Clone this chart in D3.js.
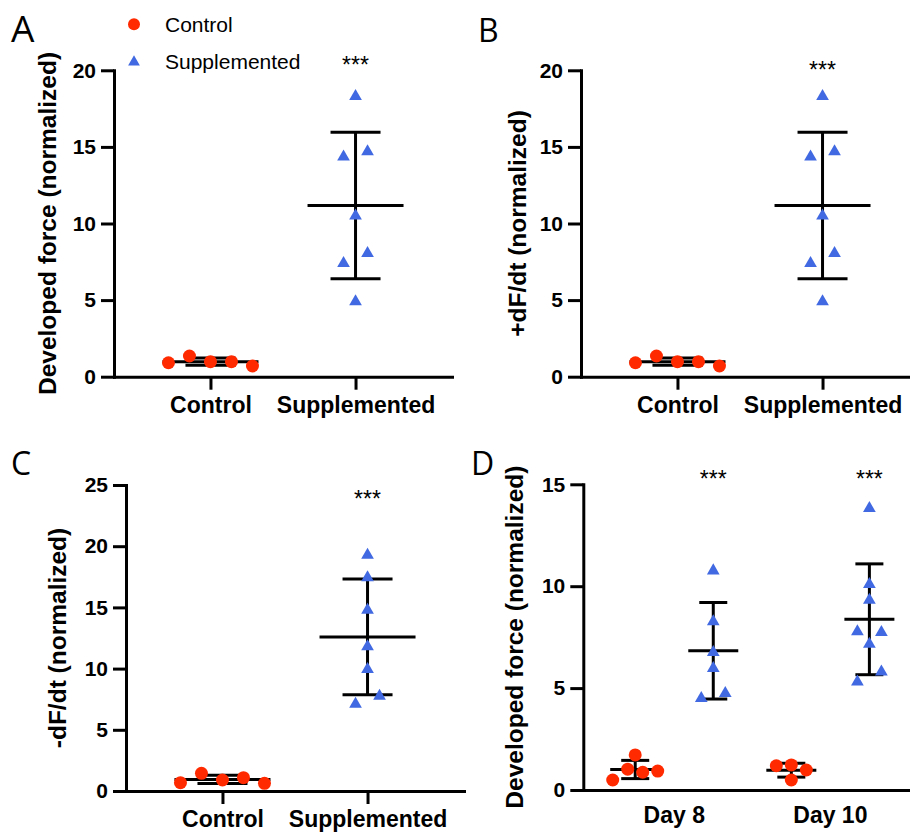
<!DOCTYPE html>
<html>
<head>
<meta charset="utf-8">
<script src="https://cdn.jsdelivr.net/npm/d3@7"></script>
<style>
  body { margin: 0; background: #fff; }
  svg { display: block; }
</style>
</head>
<body>
<svg id="fig" width="910" height="833"></svg>
<script>
// ---- data ---------------------------------------------------------------
const groupNames = ["Control", "Supplemented"];
const dayNames = ["Day 8", "Day 10"];

// A: developed force (normalized)
const forceControl = [0.91, 1.35, 0.98, 0.98, 0.70];
const forceSupp = [18.3, 14.35, 14.7, 10.5, 7.4, 8.05, 4.9];

// B: +dF/dt (normalized)
const riseControl = [0.91, 1.35, 0.98, 0.98, 0.70];
const riseSupp = [18.3, 14.35, 14.7, 10.5, 7.4, 8.05, 4.9];

// C: -dF/dt (normalized)
const decayControl = [0.68, 1.44, 0.90, 1.09, 0.63];
const decaySupp = [19.28, 17.43, 14.79, 11.79, 9.94, 7.11, 7.76];

// D: developed force by day
const day8Control = [0.49, 1.02, 0.87, 0.93, 1.72];
const day8Supp = [10.76, 8.26, 6.76, 5.97, 4.50, 4.74];
const day10Control = [1.19, 1.23, 0.98, 0.49];
const day10Supp = [13.82, 10.09, 9.32, 7.77, 7.74, 7.16, 5.31, 5.80];

const ticksAB = [0, 5, 10, 15, 20];
const ticksC = [0, 5, 10, 15, 20, 25];
const ticksD = [0, 5, 10, 15];
const sigLabel = "***";

// ---- styling ------------------------------------------------------------
const RED = "#ff2a00";
const BLUE = "#4169e1";
const BOLD = "'Liberation Sans', Arial, sans-serif";
const svg = d3.select("#fig");

// Arrange points of one column in rows: points whose pixel heights lie
// within `tol` of the row's first point share a row and are spread evenly.
function swarmOffsets(values, y, spacing, tol) {
  const order = d3.range(values.length).sort((a, b) => y(values[a]) - y(values[b]));
  const rows = [];
  order.forEach(i => {
    const row = rows[rows.length - 1];
    if (row && y(values[i]) - y(values[row[0]]) <= tol) row.push(i);
    else rows.push([i]);
  });
  const off = new Array(values.length).fill(0);
  rows.forEach(row => {
    row.sort((a, b) => a - b);
    row.forEach((i, k) => { off[i] = (k - (row.length - 1) / 2) * spacing; });
  });
  return off;
}

function drawPanel(cfg) {
  const g = svg.append("g");
  const y = d3.scaleLinear().domain([0, cfg.yMax]).range([cfg.yBot, cfg.yTop]);
  const x = d3.scalePoint()
    .domain(cfg.columns.map(c => c.key))
    .range([cfg.x0, cfg.x0 + 338])
    .padding(0.665);

  // y axis
  const ya = g.append("g")
    .attr("transform", `translate(${cfg.x0},0)`)
    .call(d3.axisLeft(y).tickValues(cfg.ticks).tickSize(13).tickSizeOuter(0).tickPadding(5));
  ya.selectAll("text").attr("font-family", BOLD).attr("font-weight", "bold")
    .attr("font-size", 21).attr("fill", "#000");

  // x axis
  const xa = g.append("g")
    .attr("transform", `translate(0,${cfg.yBot})`)
    .call(d3.axisBottom(x).tickSize(cfg.xTicks ? 13 : 0).tickSizeOuter(0).tickPadding(7));
  if (cfg.xTicks) {
    xa.selectAll("text").attr("font-family", BOLD).attr("font-weight", "bold")
      .attr("font-size", 23).attr("fill", "#000");
  } else {
    xa.selectAll(".tick").remove();
  }

  [ya, xa].forEach(a => {
    a.select(".domain").attr("stroke", "#000").attr("stroke-width", 3).attr("stroke-linecap", "square");
    a.selectAll(".tick line").attr("stroke", "#000").attr("stroke-width", 3);
  });

  // grouped category labels (panel D)
  if (cfg.outerLabels) {
    cfg.outerLabels.forEach(lab => {
      const cx = d3.mean(lab.keys, k => x(k));
      g.append("text")
        .attr("x", cx).attr("y", cfg.yBot + 33)
        .attr("text-anchor", "middle")
        .attr("font-family", BOLD).attr("font-weight", "bold").attr("font-size", 23)
        .text(lab.name);
    });
  }

  // axis title
  g.append("text")
    .attr("transform", `translate(${cfg.x0 - cfg.titleGap},${(cfg.yTop + cfg.yBot) / 2}) rotate(-90)`)
    .attr("text-anchor", "middle")
    .attr("font-family", BOLD).attr("font-weight", "bold").attr("font-size", 24.5)
    .text(cfg.title);

  // columns: mean ± SD and individual points
  cfg.columns.forEach(col => {
    const cx = x(col.key);
    const m = d3.mean(col.values);
    const sd = d3.deviation(col.values);
    const bars = g.append("g").attr("stroke", "#000").attr("stroke-width", 3);
    bars.append("line").attr("x1", cx).attr("x2", cx).attr("y1", y(m - sd)).attr("y2", y(m + sd));
    [m - sd, m + sd].forEach(v => {
      bars.append("line").attr("x1", cx - cfg.capHalf).attr("x2", cx + cfg.capHalf)
        .attr("y1", y(v)).attr("y2", y(v));
    });
    bars.append("line").attr("x1", cx - cfg.meanHalf).attr("x2", cx + cfg.meanHalf)
      .attr("y1", y(m)).attr("y2", y(m));

    const isTri = col.shape === "triangle";
    const off = swarmOffsets(col.values, y, isTri ? cfg.triSpacing : cfg.dotSpacing, 12);
    const pts = g.append("g");
    if (isTri) {
      pts.selectAll("path").data(col.values).join("path")
        .attr("d", d3.symbol(d3.symbolTriangle, 70))
        .attr("transform", (d, i) => `translate(${cx + off[i]},${y(d)})`)
        .attr("fill", BLUE);
    } else {
      pts.selectAll("circle").data(col.values).join("circle")
        .attr("cx", (d, i) => cx + off[i]).attr("cy", d => y(d)).attr("r", 6.5)
        .attr("fill", RED);
    }

    if (col.sig) {
      g.append("text")
        .attr("x", cx).attr("y", cfg.sigY)
        .attr("text-anchor", "middle")
        .attr("font-family", "'Liberation Sans', Arial, sans-serif").attr("font-size", 23)
        .text(col.sig);
    }
  });

  // panel letter
  g.append("text")
    .attr("x", cfg.letterX).attr("y", cfg.letterY)
    .attr("font-family", "'Open Sans', sans-serif").attr("font-size", cfg.letterSize)
    .text(cfg.letter);
}

drawPanel({
  letter: "A", letterX: 11, letterY: 42, letterSize: 37,
  x0: 114, yTop: 70.3, yBot: 376.7, yMax: 20, ticks: ticksAB, xTicks: true,
  title: "Developed force (normalized)", titleGap: 58, sigY: 73.2,
  meanHalf: 48, capHalf: 25, dotSpacing: 21, triSpacing: 24,
  columns: [
    { key: groupNames[0], values: forceControl, shape: "circle" },
    { key: groupNames[1], values: forceSupp, shape: "triangle", sig: sigLabel }
  ]
});

drawPanel({
  letter: "B", letterX: 478, letterY: 42, letterSize: 32,
  x0: 581, yTop: 70.3, yBot: 376.7, yMax: 20, ticks: ticksAB, xTicks: true,
  title: "+dF/dt (normalized)", titleGap: 55, sigY: 78.2,
  meanHalf: 48, capHalf: 25, dotSpacing: 21, triSpacing: 24,
  columns: [
    { key: groupNames[0], values: riseControl, shape: "circle" },
    { key: groupNames[1], values: riseSupp, shape: "triangle", sig: sigLabel }
  ]
});

drawPanel({
  letter: "C", letterX: 11, letterY: 475, letterSize: 32,
  x0: 126, yTop: 485, yBot: 791, yMax: 25, ticks: ticksC, xTicks: true,
  title: "-dF/dt (normalized)", titleGap: 60, sigY: 506.5,
  meanHalf: 48, capHalf: 25, dotSpacing: 21, triSpacing: 24,
  columns: [
    { key: groupNames[0], values: decayControl, shape: "circle" },
    { key: groupNames[1], values: decaySupp, shape: "triangle", sig: sigLabel }
  ]
});

drawPanel({
  letter: "D", letterX: 471, letterY: 475, letterSize: 32,
  x0: 583.3, yTop: 484.3, yBot: 790, yMax: 15, ticks: ticksD, xTicks: false,
  title: "Developed force (normalized)", titleGap: 60, sigY: 487.2,
  meanHalf: 25, capHalf: 14, dotSpacing: 15, triSpacing: 24,
  columns: [
    { key: "d8c", values: day8Control, shape: "circle" },
    { key: "d8s", values: day8Supp, shape: "triangle", sig: sigLabel },
    { key: "d10c", values: day10Control, shape: "circle" },
    { key: "d10s", values: day10Supp, shape: "triangle", sig: sigLabel }
  ],
  outerLabels: [
    { name: dayNames[0], keys: ["d8c", "d8s"] },
    { name: dayNames[1], keys: ["d10c", "d10s"] }
  ]
});

// legend
const legend = svg.append("g");
legend.append("circle").attr("cx", 134).attr("cy", 24.3).attr("r", 6).attr("fill", RED);
legend.append("path").attr("d", d3.symbol(d3.symbolTriangle, 60))
  .attr("transform", "translate(134,62)").attr("fill", BLUE);
[[groupNames[0], 32], [groupNames[1], 68.5]].forEach(([name, yy]) => {
  legend.append("text").attr("x", 165).attr("y", yy)
    .attr("font-family", "'Liberation Sans', Arial, sans-serif").attr("font-size", 21)
    .text(name);
});
</script>
</body>
</html>
